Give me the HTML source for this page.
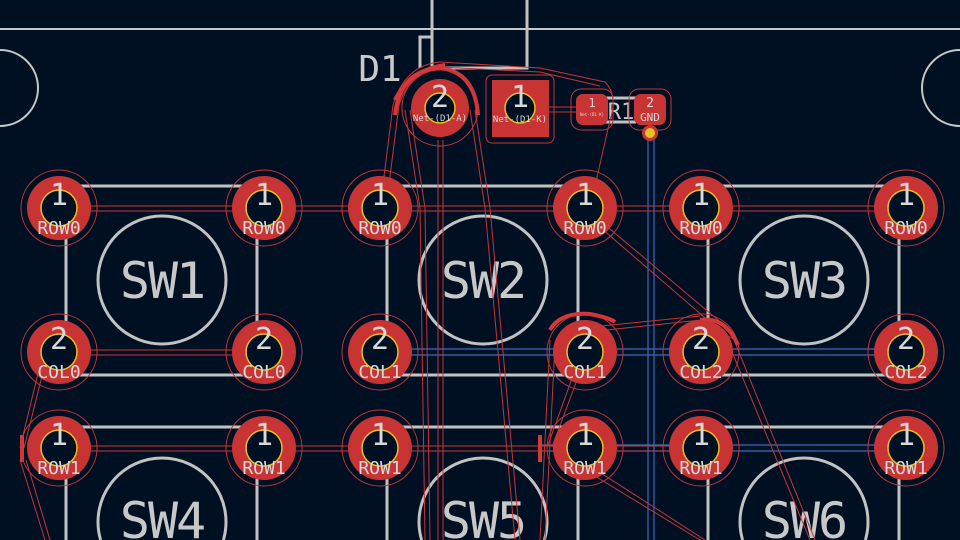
<!DOCTYPE html>
<html><head><meta charset="utf-8"><style>
html,body{margin:0;padding:0;background:#001023;width:960px;height:540px;overflow:hidden;}
svg{display:block}
text{font-family:"DejaVu Sans Mono","Liberation Mono",monospace;fill:#d8d8d8;text-anchor:middle}
</style></head><body>
<svg width="960" height="540" viewBox="0 0 960 540" xmlns="http://www.w3.org/2000/svg">
<defs><clipPath id="c"><rect width="960" height="540"/></clipPath></defs>
<g clip-path="url(#c)">
<rect width="960" height="540" fill="#001023"/>
<g stroke="#c8c8c8" stroke-width="2" fill="none">
<line x1="0" y1="29" x2="960" y2="29"/>
<path d="M0 50 A38 38 0 0 1 38 88 A38 38 0 0 1 0 126"/>
<path d="M960 50 A38 38 0 0 0 922 88 A38 38 0 0 0 960 126"/>
</g>
<g stroke="#c2c2c2" stroke-width="3" fill="none">
<path d="M432 0 V68 H527 V0"/>
<path d="M420 68 V37 H432"/>
<line x1="605" y1="98" x2="636" y2="98"/><line x1="605" y1="122" x2="636" y2="122"/>
<rect x="66" y="186" width="191" height="189"/>
<rect x="387" y="186" width="191" height="189"/>
<rect x="708" y="186" width="191" height="189"/>
<path d="M66 540 V427 H257 V540"/>
<path d="M387 540 V427 H578 V540"/>
<path d="M708 540 V427 H899 V540"/>
<circle cx="162" cy="280" r="64"/><circle cx="483" cy="280" r="64"/><circle cx="804" cy="280" r="64"/>
<path d="M100.6 540 A64 64 0 1 1 223.4 540"/>
<path d="M421.6 540 A64 64 0 1 1 544.4 540"/>
<path d="M742.6 540 A64 64 0 1 1 865.4 540"/>
</g>
<g font-size="50" style="letter-spacing:-2px">
<text x="162" y="298" style="fill:#c8c8c8">SW1</text>
<text x="483" y="298" style="fill:#c8c8c8">SW2</text>
<text x="804" y="298" style="fill:#c8c8c8">SW3</text>
<text x="162" y="538" style="fill:#c8c8c8">SW4</text>
<text x="483" y="538" style="fill:#c8c8c8">SW5</text>
<text x="804" y="538" style="fill:#c8c8c8">SW6</text>
</g>
<text x="380" y="81" font-size="36" style="fill:#c8c8c8">D1</text>
<text x="621" y="119" font-size="22" style="fill:#c8c8c8">R1</text>
<g stroke="#3a6bc0" stroke-width="1.2" fill="none">
<line x1="648" y1="140" x2="648" y2="540"/><line x1="654" y1="140" x2="654" y2="540"/>
<line x1="380" y1="349" x2="906" y2="349"/><line x1="380" y1="355" x2="906" y2="355"/>
<line x1="540" y1="445" x2="906" y2="445"/><line x1="540" y1="451" x2="906" y2="451"/>
</g>
<g stroke="#c83434" stroke-width="1" fill="none">
<line x1="59" y1="206" x2="906" y2="206"/><line x1="59" y1="211" x2="906" y2="211"/>
<line x1="59" y1="350" x2="264" y2="350"/><line x1="59" y1="355" x2="264" y2="355"/>
<line x1="59" y1="446" x2="701" y2="446"/><line x1="59" y1="451" x2="701" y2="451"/>
<line x1="548" y1="107" x2="577" y2="107"/><line x1="548" y1="112" x2="577" y2="112"/>
<path d="M380 208 L393 105 Q405 65 440 62 L540 68 L605 82 Q618 95 610 120 L590 208"/>
<path d="M386 208 L399 105 Q410 70 440 67 L540 72 L600 86"/>
<path d="M405 110 L420 208 L425 540 M410 110 L425 208 L430 540"/>
<path d="M475 110 L490 208 L520 540 M470 110 L485 208 L515 540"/>
<path d="M438 140 L438 540 M443 140 L443 540"/>
<path d="M585 208 L730 330 L815 540 M580 210 L725 335 L810 540"/>
<path d="M560 335 L701 320 L735 340 M562 330 L700 316"/>
<path d="M550 340 L540 540 M555 345 L545 540"/>
<path d="M575 370 L548 445 M580 372 L552 447"/>
<path d="M585 470 L700 540 M590 466 L705 540"/>
<path d="M20 448 L40 365 M24 448 L44 368"/>
<path d="M20 460 L45 540 M26 460 L50 540"/>
</g>
<g stroke="#d43838" stroke-width="4" fill="none">
<path d="M395 115 Q400 70 440 68 Q475 72 478 115"/>
<path d="M395 100 Q410 70 445 65"/>
<path d="M550 330 Q560 312 590 314 Q610 318 615 322"/>
<path d="M700 320 Q725 316 738 345"/>
<path d="M22 435 L22 462"/><path d="M540 435 L540 462"/>
</g>
<g stroke="#c83434" stroke-width="1" fill="none">
<circle cx="59" cy="208" r="38"/><circle cx="264" cy="208" r="38"/><circle cx="380" cy="208" r="38"/><circle cx="585" cy="208" r="38"/><circle cx="701" cy="208" r="38"/><circle cx="906" cy="208" r="38"/>
<circle cx="59" cy="352" r="38"/><circle cx="264" cy="352" r="38"/><circle cx="380" cy="352" r="38"/><circle cx="585" cy="352" r="38"/><circle cx="701" cy="352" r="38"/><circle cx="906" cy="352" r="38"/>
<circle cx="59" cy="448" r="38"/><circle cx="264" cy="448" r="38"/><circle cx="380" cy="448" r="38"/><circle cx="585" cy="448" r="38"/><circle cx="701" cy="448" r="38"/><circle cx="906" cy="448" r="38"/>
<circle cx="440" cy="108" r="38"/>
<rect x="486" y="75" width="68" height="68" rx="6"/>
<rect x="571" y="89" width="42" height="41" rx="10"/><rect x="629" y="89" width="42" height="41" rx="10"/>
</g>
<g fill="#c83434">
<circle cx="59" cy="208" r="32"/><circle cx="264" cy="208" r="32"/><circle cx="380" cy="208" r="32"/><circle cx="585" cy="208" r="32"/><circle cx="701" cy="208" r="32"/><circle cx="906" cy="208" r="32"/>
<circle cx="59" cy="352" r="32"/><circle cx="264" cy="352" r="32"/><circle cx="380" cy="352" r="32"/><circle cx="585" cy="352" r="32"/><circle cx="701" cy="352" r="32"/><circle cx="906" cy="352" r="32"/>
<circle cx="59" cy="448" r="32"/><circle cx="264" cy="448" r="32"/><circle cx="380" cy="448" r="32"/><circle cx="585" cy="448" r="32"/><circle cx="701" cy="448" r="32"/><circle cx="906" cy="448" r="32"/>
<circle cx="440" cy="108" r="29"/>
<rect x="492" y="80" width="57" height="57"/>
<rect x="576" y="94" width="32" height="31" rx="7"/><rect x="634" y="94" width="32" height="31" rx="7"/>
<circle cx="650" cy="133" r="8"/>
</g>
<g fill="#001023" stroke="#e8c020" stroke-width="1.5">
<circle cx="59" cy="208" r="18"/><circle cx="264" cy="208" r="18"/><circle cx="380" cy="208" r="18"/><circle cx="585" cy="208" r="18"/><circle cx="701" cy="208" r="18"/><circle cx="906" cy="208" r="18"/>
<circle cx="59" cy="352" r="18"/><circle cx="264" cy="352" r="18"/><circle cx="380" cy="352" r="18"/><circle cx="585" cy="352" r="18"/><circle cx="701" cy="352" r="18"/><circle cx="906" cy="352" r="18"/>
<circle cx="59" cy="448" r="18"/><circle cx="264" cy="448" r="18"/><circle cx="380" cy="448" r="18"/><circle cx="585" cy="448" r="18"/><circle cx="701" cy="448" r="18"/><circle cx="906" cy="448" r="18"/>
<circle cx="440" cy="108" r="15"/><circle cx="520" cy="108" r="15"/>
</g>
<circle cx="650" cy="133" r="5" fill="#e8c020"/>
<g font-size="30">
<text x="59" y="205">1</text><text x="264" y="205">1</text><text x="380" y="205">1</text><text x="585" y="205">1</text><text x="701" y="205">1</text><text x="906" y="205">1</text>
<text x="59" y="349">2</text><text x="264" y="349">2</text><text x="380" y="349">2</text><text x="585" y="349">2</text><text x="701" y="349">2</text><text x="906" y="349">2</text>
<text x="59" y="445">1</text><text x="264" y="445">1</text><text x="380" y="445">1</text><text x="585" y="445">1</text><text x="701" y="445">1</text><text x="906" y="445">1</text>
<text x="440" y="107">2</text><text x="520" y="107">1</text>
</g>
<g font-size="18">
<text x="59" y="234">ROW0</text><text x="264" y="234">ROW0</text><text x="380" y="234">ROW0</text><text x="585" y="234">ROW0</text><text x="701" y="234">ROW0</text><text x="906" y="234">ROW0</text>
<text x="59" y="378">COL0</text><text x="264" y="378">COL0</text><text x="380" y="378">COL1</text><text x="585" y="378">COL1</text><text x="701" y="378">COL2</text><text x="906" y="378">COL2</text>
<text x="59" y="474">ROW1</text><text x="264" y="474">ROW1</text><text x="380" y="474">ROW1</text><text x="585" y="474">ROW1</text><text x="701" y="474">ROW1</text><text x="906" y="474">ROW1</text>
</g>
<text x="440" y="121" font-size="9">Net-(D1-A)</text>
<text x="520" y="122" font-size="9">Net-(D1-K)</text>
<text x="592" y="107" font-size="12">1</text>
<text x="592" y="116" font-size="4">Net-(D1-K)</text>
<text x="650" y="107" font-size="13">2</text>
<text x="650" y="121" font-size="11">GND</text>
</g>
</svg>
</body></html>
